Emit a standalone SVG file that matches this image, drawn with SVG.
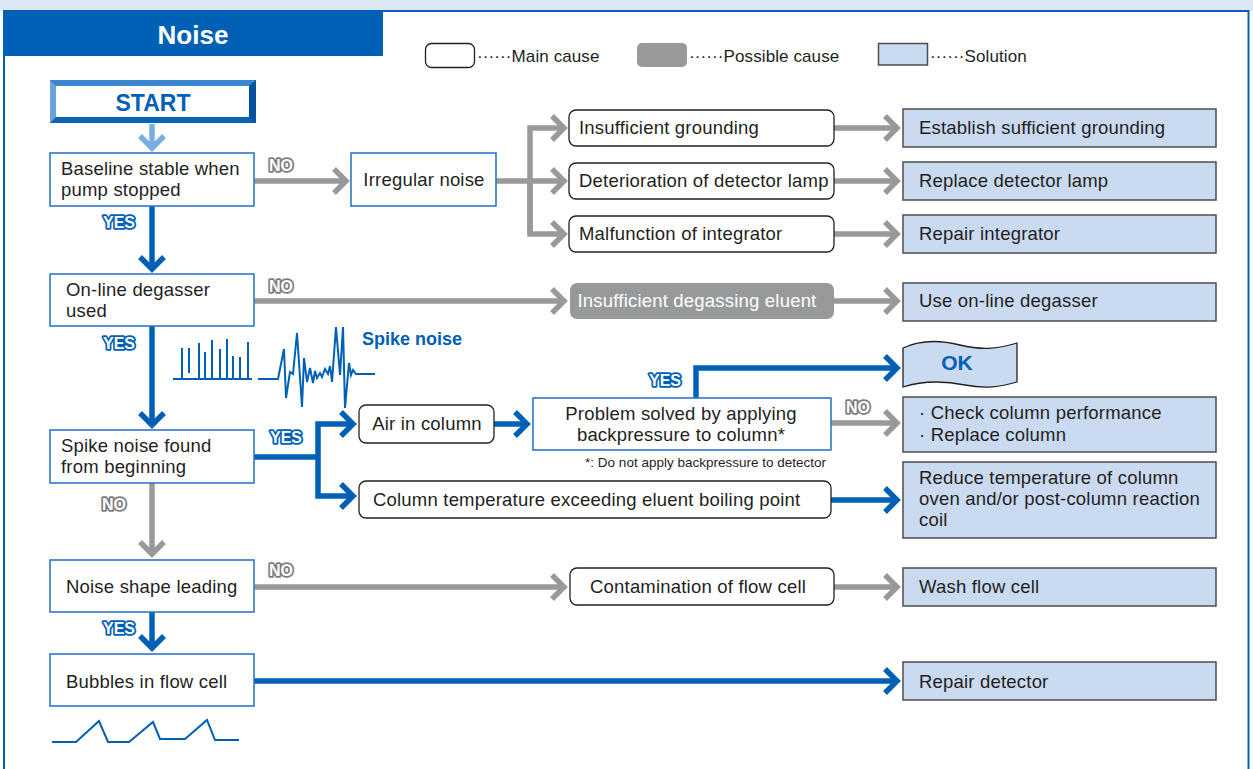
<svg xmlns="http://www.w3.org/2000/svg" width="1253" height="769" viewBox="0 0 1253 769">
<style>
  .t{font-family:"Liberation Sans",Arial,Helvetica,sans-serif;font-size:18.5px;letter-spacing:0.2px;fill:#231f20}
  .tc{text-anchor:middle}
  .lg{font-size:17px;letter-spacing:0.1px}
  .box{fill:#fff;stroke:#2d78c6;stroke-width:1.6}
  .cause{fill:#fff;stroke:#231f20;stroke-width:1.3}
  .sol{fill:#c9daf1;stroke:#4d4d4f;stroke-width:1.5}
  .g{fill:none;stroke:#98999b;stroke-width:5.5;stroke-linejoin:miter}
  .b{fill:none;stroke:#0060b6;stroke-width:5.5;stroke-linejoin:miter}
  .no{font-family:"Liberation Sans",Arial,sans-serif;font-weight:bold;font-size:16px;fill:#fff;stroke:#7d7d7f;stroke-width:3.6;paint-order:stroke;stroke-linejoin:round;text-anchor:middle}
  .yes{font-family:"Liberation Sans",Arial,sans-serif;font-weight:bold;font-size:16px;fill:#fff;stroke:#0060b6;stroke-width:3.6;paint-order:stroke;stroke-linejoin:round;text-anchor:middle}
  .wave{fill:none;stroke:#0060b6;stroke-width:2;stroke-linejoin:miter}
</style>
<defs>
  <marker id="ag" markerUnits="userSpaceOnUse" markerWidth="26" markerHeight="32" viewBox="0 0 26 32" refX="19" refY="16" orient="auto">
    <path d="M7,4 L19,16 L7,28" fill="none" stroke="#98999b" stroke-width="5.5"/>
  </marker>
  <marker id="ab" markerUnits="userSpaceOnUse" markerWidth="26" markerHeight="32" viewBox="0 0 26 32" refX="19" refY="16" orient="auto">
    <path d="M7,4 L19,16 L7,28" fill="none" stroke="#0060b6" stroke-width="5.5"/>
  </marker>
  <marker id="al" markerUnits="userSpaceOnUse" markerWidth="26" markerHeight="32" viewBox="0 0 26 32" refX="19" refY="16" orient="auto">
    <path d="M7,4 L19,16 L7,28" fill="none" stroke="#7aaee0" stroke-width="5.5"/>
  </marker>
</defs>

<!-- background and frame -->
<rect x="0" y="0" width="1253" height="769" fill="#fff"/>
<rect x="0" y="0" width="1253" height="11" fill="#dce7f5"/>
<rect x="4" y="11" width="1244.5" height="770" fill="#fff" stroke="#0060b6" stroke-width="2"/>
<g id="header">
  <rect x="4" y="11" width="379" height="45" fill="#0060b6"/>
  <text x="193" y="44" text-anchor="middle" font-family="'Liberation Sans',Arial,sans-serif" font-weight="bold" font-size="26" fill="#fff">Noise</text>
</g>

<!-- legend -->
<g id="legend">
  <rect x="425.5" y="43.5" width="49" height="24" rx="6" fill="#fff" stroke="#231f20" stroke-width="1.3"/>
  <text class="t lg" x="477" y="62">······Main cause</text>
  <rect x="637" y="43" width="50" height="24" rx="5" fill="#98999b"/>
  <text class="t lg" x="689" y="62">······Possible cause</text>
  <rect x="878.5" y="43.5" width="49" height="21.5" class="sol"/>
  <text class="t lg" x="930" y="62">······Solution</text>
</g>

<!-- connectors -->
<g id="connectors">
  <path d="M152,124 V148" fill="none" stroke="#7aaee0" stroke-width="5.5" marker-end="url(#al)"/>
  <path class="g" d="M254,181 H346" marker-end="url(#ag)"/>
  <path class="g" d="M530,234 V128 H564" marker-end="url(#ag)"/>
  <path class="g" d="M496,181 H564" marker-end="url(#ag)"/>
  <path class="g" d="M530,181 V234 H564" marker-end="url(#ag)"/>
  <path class="g" d="M834,128 H897" marker-end="url(#ag)"/>
  <path class="g" d="M834,181 H897" marker-end="url(#ag)"/>
  <path class="g" d="M834,234 H897" marker-end="url(#ag)"/>
  <path class="b" d="M152,206 V269" marker-end="url(#ab)"/>
  <path class="g" d="M254,301 H564" marker-end="url(#ag)"/>
  <path class="g" d="M834,301 H897" marker-end="url(#ag)"/>
  <path class="b" d="M152,326 V425" marker-end="url(#ab)"/>
  <path class="b" d="M254,457 H318"/>
  <path class="b" d="M318,457 V424 H353" marker-end="url(#ab)"/>
  <path class="b" d="M318,457 V496 H353" marker-end="url(#ab)"/>
  <path class="b" d="M494,424 H527" marker-end="url(#ab)"/>
  <path class="b" d="M696,398 V368 H897" marker-end="url(#ab)"/>
  <path class="g" d="M831,423 H897" marker-end="url(#ag)"/>
  <path class="b" d="M831,500 H897" marker-end="url(#ab)"/>
  <path class="g" d="M152,483 V554" marker-end="url(#ag)"/>
  <path class="g" d="M254,587 H564" marker-end="url(#ag)"/>
  <path class="g" d="M834,587 H897" marker-end="url(#ag)"/>
  <path class="b" d="M152,612 V648" marker-end="url(#ab)"/>
  <path class="b" d="M254,681 H897" marker-end="url(#ab)"/>
</g>

<!-- decision labels -->
<g id="labels">
  <text class="no" x="281" y="171">NO</text>
  <text class="yes" x="119" y="228">YES</text>
  <text class="no" x="281" y="292">NO</text>
  <text class="yes" x="119" y="349">YES</text>
  <text class="yes" x="286" y="443">YES</text>
  <text class="yes" x="665" y="386">YES</text>
  <text class="no" x="858" y="413">NO</text>
  <text class="no" x="114" y="510">NO</text>
  <text class="no" x="281" y="576">NO</text>
  <text class="yes" x="119" y="634">YES</text>
</g>

<!-- START -->
<g id="start">
  <rect x="50" y="80" width="206" height="43" fill="#0a62b6"/>
  <polygon points="50,80 256,80 249,86 56,86" fill="#3b86d0"/>
  <polygon points="50,80 56,86 56,117 50,123" fill="#6aa4dd"/>
  <polygon points="256,80 256,123 249,117 249,86" fill="#0552a0"/>
  <rect x="56" y="86" width="193" height="31" fill="#fff"/>
  <text x="153" y="111" text-anchor="middle" font-family="'Liberation Sans',Arial,sans-serif" font-weight="bold" font-size="23" fill="#0060b6">START</text>
</g>

<g id="baseline">
  <rect class="box" x="50" y="153" width="204" height="53"/>
  <text class="t" x="61" y="175">Baseline stable when</text>
  <text class="t" x="61" y="196">pump stopped</text>
</g>
<g id="irregular">
  <rect class="box" x="351" y="153" width="145" height="53"/>
  <text class="t tc" x="424" y="186">Irregular noise</text>
</g>
<g id="grounding">
  <rect class="cause" x="569" y="110" width="265" height="36" rx="7"/>
  <text class="t" x="579" y="134">Insufficient grounding</text>
</g>
<g id="lamp">
  <rect class="cause" x="569" y="163" width="265" height="36" rx="7"/>
  <text class="t" x="579" y="187">Deterioration of detector lamp</text>
</g>
<g id="integrator">
  <rect class="cause" x="569" y="216" width="265" height="36" rx="7"/>
  <text class="t" x="579" y="240">Malfunction of integrator</text>
</g>
<g id="sol-grounding">
  <rect class="sol" x="903" y="109" width="313" height="38"/>
  <text class="t" x="919" y="134">Establish sufficient grounding</text>
</g>
<g id="sol-lamp">
  <rect class="sol" x="903" y="162" width="313" height="38"/>
  <text class="t" x="919" y="187">Replace detector lamp</text>
</g>
<g id="sol-integrator">
  <rect class="sol" x="903" y="215" width="313" height="38"/>
  <text class="t" x="919" y="240">Repair integrator</text>
</g>

<g id="degasser">
  <rect class="box" x="50" y="274" width="204" height="52"/>
  <text class="t" x="66" y="296">On-line degasser</text>
  <text class="t" x="66" y="317">used</text>
</g>
<g id="degassing-eluent">
  <rect x="570" y="283" width="264" height="36" rx="7" fill="#98999b"/>
  <text class="t tc" x="697" y="307" style="fill:#fff">Insufficient degassing eluent</text>
</g>
<g id="sol-degasser">
  <rect class="sol" x="903" y="283" width="313" height="38"/>
  <text class="t" x="919" y="307">Use on-line degasser</text>
</g>

<!-- spike noise illustration -->
<g id="spike-illustration">
  <path class="wave" d="M173,379 H252 M182,379 V348 M189,373 V348 M199,379 V343 M205,379 V352 M212,379 V340 M220,379 V349 M227,379 V339 M233,379 V356 M240,379 V357 M248,379 V342"/>
  <path class="wave" d="M258,379 H278 L284,349 L286,398 L290,372 L293,374 L297,333 L302,407 L304,358 L307,382 L310,368 L313,383 L315,371 L317,378 L320,373 L322,377 L325,369 L328,374 L330,366 L332,382 L336,327 L340,375 L343,327 L345,408 L349,363 L351,375 L353,370 L356,374 H375"/>
  <text x="362" y="345" font-family="'Liberation Sans',Arial,sans-serif" font-weight="bold" font-size="18" fill="#0060b6">Spike noise</text>
</g>

<g id="spike-found">
  <rect class="box" x="50" y="430" width="204" height="53"/>
  <text class="t" x="61" y="452">Spike noise found</text>
  <text class="t" x="61" y="473">from beginning</text>
</g>
<g id="air">
  <rect class="cause" x="359" y="405" width="135" height="38" rx="7"/>
  <text class="t tc" x="427" y="430">Air in column</text>
</g>
<g id="problem-solved">
  <rect class="box" x="533" y="398" width="298" height="52"/>
  <text class="t tc" x="681" y="420">Problem solved by applying</text>
  <text class="t tc" x="681" y="441">backpressure to column*</text>
  <text x="826" y="467" text-anchor="end" font-family="'Liberation Sans',Arial,sans-serif" font-size="13.5" fill="#231f20">*: Do not apply backpressure to detector</text>
</g>
<g id="ok">
  <path d="M903,348 C920,340 940,340 960,345 C985,351 1000,348 1017,343 L1017,382 C1000,387 985,389 965,385 C945,381 925,380 903,387 Z" fill="#c9daf1" stroke="#231f20" stroke-width="1.3"/>
  <text x="957" y="370" text-anchor="middle" font-family="'Liberation Sans',Arial,sans-serif" font-weight="bold" font-size="21" fill="#0060b6">OK</text>
</g>
<g id="sol-column">
  <rect class="sol" x="903" y="397" width="313" height="55"/>
  <text class="t" x="919" y="419">· Check column performance</text>
  <text class="t" x="919" y="441">· Replace column</text>
</g>
<g id="column-temp">
  <rect class="cause" x="359" y="481" width="472" height="37" rx="7"/>
  <text class="t" x="373" y="506">Column temperature exceeding eluent boiling point</text>
</g>
<g id="sol-temp">
  <rect class="sol" x="903" y="462" width="313" height="76"/>
  <text class="t" x="919" y="484">Reduce temperature of column</text>
  <text class="t" x="919" y="505">oven and/or post-column reaction</text>
  <text class="t" x="919" y="526">coil</text>
</g>

<g id="noise-shape">
  <rect class="box" x="50" y="560" width="204" height="52"/>
  <text class="t" x="66" y="593">Noise shape leading</text>
</g>
<g id="flow-cell">
  <rect class="cause" x="570" y="568" width="264" height="37" rx="7"/>
  <text class="t tc" x="698" y="593">Contamination of flow cell</text>
</g>
<g id="sol-wash">
  <rect class="sol" x="903" y="568" width="313" height="38"/>
  <text class="t" x="919" y="593">Wash flow cell</text>
</g>

<g id="bubbles">
  <rect class="box" x="50" y="654" width="204" height="52"/>
  <text class="t" x="66" y="688">Bubbles in flow cell</text>
</g>
<g id="sol-repair">
  <rect class="sol" x="903" y="662" width="313" height="38"/>
  <text class="t" x="919" y="688">Repair detector</text>
</g>
<g id="bubble-illustration">
  <path class="wave" d="M52,742 H76 L99,721 L108,742 H129 L153,722 L160,739 H185 L207,720 L215,740 H239"/>
</g>
</svg>
